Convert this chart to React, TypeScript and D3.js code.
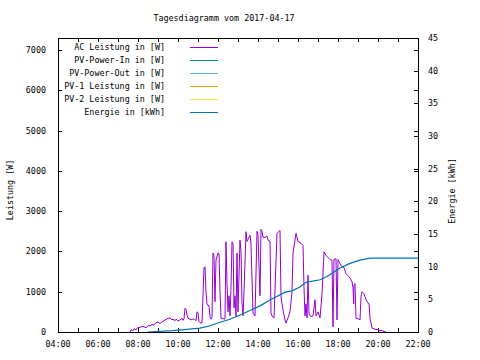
import React from "react";
import * as d3 from "d3";

const title = "Tagesdiagramm vom 2017-04-17";
const yLabel = "Leistung [W]";
const y2Label = "Energie [kWh]";

const legendLabels = [
  "AC Leistung in [W]",
  "PV-Power-In in [W]",
  "PV-Power-Out in [W]",
  "PV-1 Leistung in [W]",
  "PV-2 Leistung in [W]",
  "Energie in [kWh]",
];
const legendColors = ["#9400d3", "#009e73", "#56b4e9", "#e69f00", "#f0e442", "#0072b2"];

const yTicks = [0, 1000, 2000, 3000, 4000, 5000, 6000, 7000];
const y2Ticks = [0, 5, 10, 15, 20, 25, 30, 35, 40, 45];
const xTickLabels = ["04:00", "06:00", "08:00", "10:00", "12:00", "14:00", "16:00", "18:00", "20:00", "22:00"];

const acTimes = [
  "07:36", "07:40", "07:45", "07:48", "07:54", "08:00", "08:06", "08:12", "08:18", "08:24",
  "08:30", "08:36", "08:42", "08:48", "08:54", "09:00", "09:06", "09:12", "09:18", "09:24",
  "09:30", "09:36", "09:42", "09:45", "09:51", "09:54", "09:57", "10:00", "10:06", "10:12",
  "10:15", "10:18", "10:21", "10:24", "10:27", "10:30", "10:36", "10:42", "10:48", "10:54",
  "10:57", "11:00", "11:03", "11:06", "11:12", "11:15", "11:18", "11:21", "11:24", "11:27",
  "11:33", "11:36", "11:39", "11:42", "11:45", "11:48", "11:51", "11:54", "12:00", "12:03",
  "12:06", "12:09", "12:15", "12:21", "12:24", "12:27", "12:30", "12:33", "12:36", "12:39",
  "12:42", "12:45", "12:48", "12:51", "12:54", "12:57", "13:00", "13:06", "13:09", "13:12",
  "13:15", "13:18", "13:24", "13:27", "13:30", "13:36", "13:39", "13:45", "13:51", "13:57",
  "14:00", "14:06", "14:09", "14:12", "14:15", "14:21", "14:27", "14:30", "14:36", "14:39",
  "14:42", "14:48", "14:57", "15:03", "15:06", "15:09", "15:15", "15:21", "15:24", "15:30",
  "15:36", "15:42", "15:45", "15:54", "16:00", "16:09", "16:15", "16:18", "16:21", "16:24",
  "16:27", "16:30", "16:33", "16:39", "16:45", "16:51", "16:54", "17:00", "17:06", "17:12",
  "17:18", "17:24", "17:30", "17:36", "17:42", "17:45", "17:48", "17:54", "17:57", "18:00",
  "18:06", "18:12", "18:18", "18:24", "18:30", "18:36", "18:42", "18:45", "18:47", "18:48",
  "18:51", "18:54", "19:00", "19:06", "19:09", "19:12", "19:18", "19:24", "19:30", "19:33",
  "19:36", "19:42", "19:48", "19:54", "20:00", "20:06", "20:12", "20:18", "20:24",
];
const acValues = [
  0, 60, 30, 80, 50, 120, 110, 140, 130, 100,
  160, 150, 190, 170, 230, 250, 210, 250, 280, 310,
  340, 350, 300, 320, 280, 320, 300, 270, 300, 340,
  290, 330, 590, 560, 420, 340, 320, 300, 330, 280,
  500, 480, 260, 230, 220, 920, 1590, 1620, 1000, 680,
  650, 380, 320, 350, 1960, 1900, 750, 1790, 1960, 1950,
  1000, 340, 330, 320, 2240, 1200, 500, 900, 400, 1100,
  2240, 2200, 600, 900, 380, 1960, 500, 2280, 2000, 700,
  400, 1000, 2490, 2250, 2300, 2400, 2200, 470, 400, 2500,
  2400, 900, 2550, 2500, 2350, 2350, 2380, 2280, 2250, 470,
  400, 350, 2450, 2500, 2520, 870, 540, 300, 220, 350,
  500, 1000, 1960, 2450, 2250, 2200, 2150, 1100, 400, 700,
  350, 1410, 450, 380, 400, 800, 400, 500, 350, 930,
  1990, 1900, 1850, 1800, 1780, 130, 1800, 1820, 300, 1800,
  1700, 1620, 1600, 1450, 1400, 1340, 1250, 1100, 700, 1150,
  1200, 340, 330, 300, 880, 1000, 950, 800, 720, 700,
  350, 100, 80, 60, 70, 30, 40, 10, 0,
];

const energyTimes = [
  "08:30", "09:45", "10:27", "11:06", "11:36", "12:06", "12:36", "13:06", "13:36", "14:06",
  "14:36", "15:21", "15:42", "16:06", "16:24", "17:06", "17:27", "17:48", "18:06", "18:36",
  "19:06", "19:36", "22:00",
];
const energyValues = [
  0, 0.2, 0.4, 0.6, 0.95, 1.5, 1.95, 2.6, 3.3, 4.0,
  4.9, 6.1, 6.3, 6.9, 7.6, 8.0, 8.5, 9.2, 9.8, 10.5,
  11.0, 11.3, 11.3,
];

const toMin = (s: string) => {
  const [h, m] = s.split(":").map(Number);
  return h * 60 + m;
};

const FONT = "'DejaVu Sans Mono', monospace";

export default function App() {
  const W = 480, H = 360;
  const left = 58, right = 418, top = 38, bottom = 332;
  const x = d3.scaleLinear().domain([240, 1320]).range([left, right]);
  const y = d3.scaleLinear().domain([0, 7300]).range([bottom, top]);
  const y2 = d3.scaleLinear().domain([0, 45]).range([bottom, top]);

  const acData = acTimes.map((t, i) => [toMin(t), acValues[i]] as [number, number]);
  const enData = energyTimes.map((t, i) => [toMin(t), energyValues[i]] as [number, number]);

  const acLine = d3.line<[number, number]>().x((d) => x(d[0])).y((d) => y(d[1]));
  const enLine = d3.line<[number, number]>().x((d) => x(d[0])).y((d) => y2(d[1]));

  const hourTicks = d3.range(240, 1321, 60);
  const tl = 4;
  const fs = 8.4;

  return (
    <svg width={W} height={H} style={{ position: "absolute", left: 0, top: 0, background: "#fff" }}>
      <rect x={0} y={0} width={W} height={H} fill="#fff" />
      <text x={224} y={21} fontFamily={FONT} fontSize={fs} textAnchor="middle" fill="#000">{title}</text>

      {/* ticks */}
      <g stroke="#000" strokeWidth={1} shapeRendering="crispEdges">
        {yTicks.map((t) => (
          <g key={"y" + t}>
            <line x1={left} x2={left + tl} y1={Math.round(y(t)) + 0.5} y2={Math.round(y(t)) + 0.5} />
            <line x1={right} x2={right - tl} y1={Math.round(y(t)) + 0.5} y2={Math.round(y(t)) + 0.5} />
          </g>
        ))}
        {y2Ticks.map((t) => (
          <line key={"y2" + t} x1={right} x2={right - tl} y1={Math.round(y2(t)) + 0.5} y2={Math.round(y2(t)) + 0.5} />
        ))}
        {hourTicks.map((t) => (
          <g key={"x" + t}>
            <line x1={Math.round(x(t)) + 0.5} x2={Math.round(x(t)) + 0.5} y1={bottom} y2={bottom - tl} />
            <line x1={Math.round(x(t)) + 0.5} x2={Math.round(x(t)) + 0.5} y1={top} y2={top + tl} />
          </g>
        ))}
      </g>

      {/* tick labels */}
      <g fontFamily={FONT} fontSize={fs} fill="#000">
        {yTicks.map((t) => (
          <text key={"yl" + t} x={46} y={y(t) + 3} textAnchor="end">{t}</text>
        ))}
        {y2Ticks.map((t) => (
          <text key={"y2l" + t} x={428} y={y2(t) + 3}>{t}</text>
        ))}
        {xTickLabels.map((s) => (
          <text key={"xl" + s} x={x(toMin(s))} y={347} textAnchor="middle">{s}</text>
        ))}
        <text transform={`translate(13,190) rotate(-90)`} textAnchor="middle">{yLabel}</text>
        <text transform={`translate(455,191) rotate(-90)`} textAnchor="middle">{y2Label}</text>
      </g>

      {/* data */}
      <path d={acLine(acData) || ""} fill="none" stroke={legendColors[0]} strokeWidth={1} />
      <path d={enLine(enData) || ""} fill="none" stroke={legendColors[5]} strokeWidth={1.2} />

      {/* legend */}
      <g fontFamily={FONT} fontSize={fs}>
        {legendLabels.map((l, i) => (
          <g key={l}>
            <text x={165} y={47 + i * 13 + 3} textAnchor="end" fill="#000">{l}</text>
            <line x1={190} x2={218} y1={47.5 + i * 13} y2={47.5 + i * 13} stroke={legendColors[i]} strokeWidth={1} shapeRendering="crispEdges" />
          </g>
        ))}
      </g>

      {/* frame */}
      <rect x={left + 0.5} y={top + 0.5} width={right - left} height={bottom - top} fill="none" stroke="#000" strokeWidth={1} shapeRendering="crispEdges" />
    </svg>
  );
}
